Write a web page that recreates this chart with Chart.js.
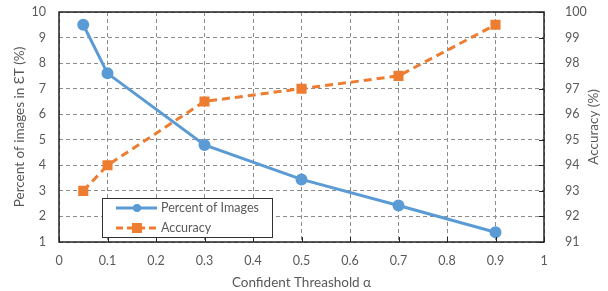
<!DOCTYPE html>
<html>
<head>
<meta charset="utf-8">
<script src="https://cdn.jsdelivr.net/npm/chart.js@4/dist/chart.umd.min.js"></script>
<style>
  html, body { margin: 0; padding: 0; background: #fff; }
  #wrap { width: 608px; height: 291px; }
</style>
</head>
<body>
<div id="wrap"><canvas id="chart" width="608" height="291"></canvas></div>
<script>
const thresholds = [0.05, 0.1, 0.3, 0.5, 0.7, 0.9];
const percentImages = [9.5, 7.6, 4.8, 3.45, 2.43, 1.38];
const accuracy = [93, 94, 96.5, 97, 97.5, 99.5];

const BLUE = '#5B9BD5';
const ORANGE = '#ED7D31';
const TEXT = '#595959';
const FONT = 'Lato, "Open Sans", sans-serif';

// frame, inner tick marks, axis titles and legend box
const framePlugin = {
    id: 'frame',
    afterDraw(chart) {
        const { ctx, chartArea: a, scales } = chart;
        ctx.save();
        ctx.strokeStyle = '#222';
        ctx.lineWidth = 1.5;
        ctx.strokeRect(a.left, a.top, a.right - a.left, a.bottom - a.top);

        ctx.lineWidth = 1;
        scales.x.ticks.forEach(t => {
            const x = Math.round(scales.x.getPixelForValue(t.value)) + 0.5;
            ctx.beginPath();
            ctx.moveTo(x, a.bottom);
            ctx.lineTo(x, a.bottom - 5);
            ctx.stroke();
        });
        scales.y2.ticks.forEach(t => {
            const y = Math.round(scales.y2.getPixelForValue(t.value)) + 0.5;
            ctx.beginPath();
            ctx.moveTo(a.right, y);
            ctx.lineTo(a.right - 5, y);
            ctx.stroke();
        });

        // axis titles
        ctx.fillStyle = TEXT;
        ctx.font = '13.5px ' + FONT;
        ctx.textAlign = 'center';
        ctx.textBaseline = 'middle';
        ctx.fillText('Confident Threashold α', (a.left + a.right) / 2, 283);
        const midY = (a.top + a.bottom) / 2;
        [[20, 'Percent of images in ƐT (%)'], [594, 'Accuracy (%)']].forEach(([x, txt]) => {
            ctx.save();
            ctx.translate(x, midY);
            ctx.rotate(-Math.PI / 2);
            ctx.fillText(txt, 0, 0);
            ctx.restore();
        });

        // legend
        const lx = 102, ly = 198, lw = 170, lh = 39;
        ctx.fillStyle = '#fff';
        ctx.fillRect(lx, ly, lw, lh);
        ctx.strokeStyle = '#333';
        ctx.strokeRect(lx + 0.5, ly + 0.5, lw, lh);

        ctx.lineWidth = 3;
        ctx.strokeStyle = BLUE;
        ctx.beginPath();
        ctx.moveTo(116, 208);
        ctx.lineTo(157, 208);
        ctx.stroke();
        ctx.fillStyle = BLUE;
        ctx.beginPath();
        ctx.arc(137, 208, 4, 0, Math.PI * 2);
        ctx.fill();

        ctx.strokeStyle = ORANGE;
        ctx.setLineDash([7, 4]);
        ctx.beginPath();
        ctx.moveTo(116, 228);
        ctx.lineTo(157, 228);
        ctx.stroke();
        ctx.setLineDash([]);
        ctx.fillStyle = ORANGE;
        ctx.fillRect(132, 223, 10, 10);

        ctx.fillStyle = TEXT;
        ctx.font = '12.5px ' + FONT;
        ctx.textAlign = 'left';
        ctx.fillText('Percent of Images', 161, 208);
        ctx.fillText('Accuracy', 161, 228);
        ctx.restore();
    }
};

const tickFont = { family: FONT, size: 12.5 };

// fixed sizes so the plot area lands where the reference has it
function fixWidth(w) {
    return s => { s.width = w; s.paddingTop = 0; s.paddingBottom = 0; };
}

const ctx = document.getElementById('chart').getContext('2d');
new Chart(ctx, {
    type: 'line',
    data: {
        datasets: [{
            label: 'Percent of Images',
            data: thresholds.map((x, i) => ({ x, y: percentImages[i] })),
            borderColor: BLUE,
            backgroundColor: BLUE,
            borderWidth: 3,
            pointRadius: 4.5,
            pointStyle: 'circle',
            yAxisID: 'y'
        }, {
            label: 'Accuracy',
            data: thresholds.map((x, i) => ({ x, y: accuracy[i] })),
            borderColor: ORANGE,
            backgroundColor: ORANGE,
            borderWidth: 3,
            borderDash: [8, 5],
            pointRadius: 5,
            pointStyle: 'rect',
            yAxisID: 'y2'
        }]
    },
    options: {
        responsive: false,
        animation: false,
        layout: { padding: { top: 12, left: 0, right: 0, bottom: 0 } },
        plugins: { legend: { display: false }, tooltip: { enabled: false } },
        scales: {
            x: {
                type: 'linear',
                min: 0, max: 1,
                ticks: {
                    stepSize: 0.1, color: TEXT, font: tickFont, padding: 11,
                    callback: v => String(Math.round(v * 10) / 10)
                },
                grid: { color: '#8c8c8c', drawTicks: false },
                border: { display: false, dash: [4, 3] },
                afterFit(s) { s.height = 49; }
            },
            y: {
                position: 'left',
                min: 1, max: 10,
                ticks: { stepSize: 1, color: TEXT, font: tickFont, padding: 13 },
                grid: { color: '#8c8c8c', drawTicks: false },
                border: { display: false, dash: [4, 3] },
                afterFit: fixWidth(59)
            },
            y2: {
                position: 'right',
                min: 91, max: 100,
                ticks: { stepSize: 1, color: TEXT, font: tickFont, padding: 13 },
                grid: { display: false },
                border: { display: false },
                afterFit: fixWidth(64)
            }
        }
    },
    plugins: [framePlugin]
});
</script>
</body>
</html>
